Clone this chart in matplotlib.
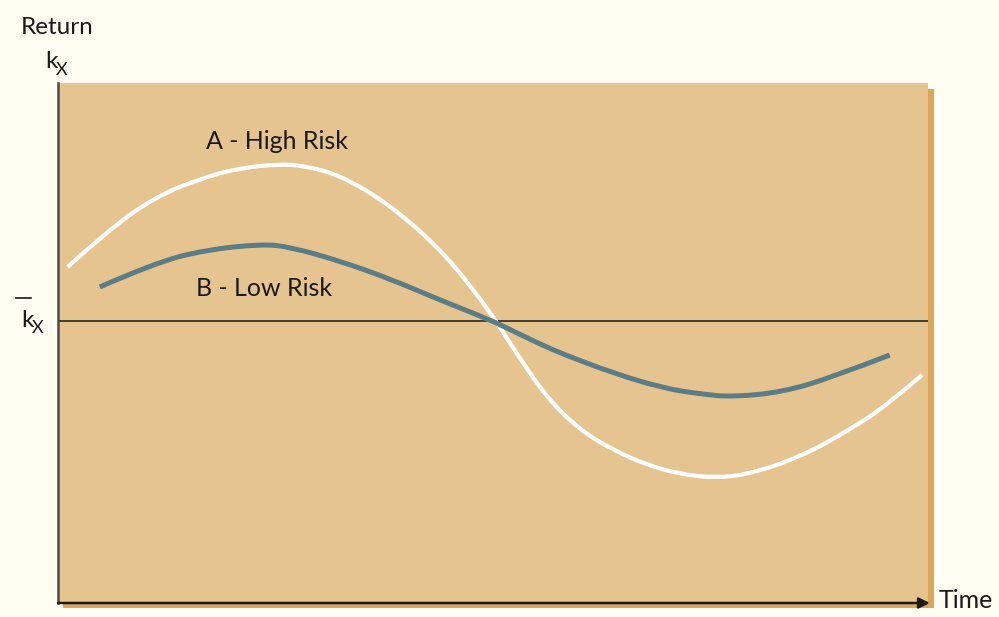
import matplotlib
matplotlib.use("Agg")
import matplotlib.pyplot as plt
from matplotlib.patches import Rectangle, PathPatch
from matplotlib.path import Path

# Return paths over time (time 0-100, return relative to the mean k_X = 0)
TIME_A = [1.1, 5.4, 11.1, 16.9, 21.0, 25.5, 28.4, 32.4, 38.2, 43.9, 47.7, 50.5,
          52.3, 56.2, 60.0, 63.8, 67.7, 71.5, 75.5, 79.5, 85.3, 91.0, 95.6, 99.3]
RETURN_A = [5.4, 8.8, 12.4, 14.4, 15.3, 15.7, 15.5, 14.6, 11.6, 7.2, 3.2, -0.2,
            -2.7, -7.7, -10.9, -12.9, -14.4, -15.3, -15.7, -15.3, -13.6, -10.9, -8.2, -5.4]

TIME_B = [4.8, 11.1, 16.9, 23.4, 26.7, 32.4, 38.2, 43.9, 49.7, 52.3, 55.4, 58.0,
          63.8, 69.5, 73.8, 77.6, 83.3, 89.1, 95.6]
RETURN_B = [3.4, 5.8, 7.1, 7.7, 7.4, 6.0, 4.2, 2.1, 0.1, -1.0, -2.3, -3.3,
            -5.2, -6.7, -7.3, -7.6, -7.1, -5.6, -3.4]

MEAN_RETURN = 0.0
Y_MIN, Y_MAX = -28.2, 23.8

BG = "#FFFCF2"
TAN = "#E6C490"
SHADOW = "#D9A65C"
LINE_A = "white"
LINE_B = "#5B7D85"
INK = "#1a1a1a"
FONT = "Lato"

W, H = 999, 617
fig = plt.figure(figsize=(W / 100, H / 100), dpi=100, facecolor=BG)


def fx(px):
    return px / W


def fy(py):
    return 1 - py / H


def smooth_path(xs, ys):
    """Quadratic Bezier path through the midpoints, using each sample as control."""
    pts = list(zip(xs, ys))
    verts = [pts[0]]
    codes = [Path.MOVETO]
    for i in range(1, len(pts) - 1):
        mid = ((pts[i][0] + pts[i + 1][0]) / 2, (pts[i][1] + pts[i + 1][1]) / 2)
        if i == len(pts) - 2:
            mid = pts[-1]
        verts += [pts[i], mid]
        codes += [Path.CURVE3, Path.CURVE3]
    return Path(verts, codes)


# drop shadow behind the panel
fig.patches.append(Rectangle((fx(63), fy(608)), fx(934) - fx(63), fy(89) - fy(608),
                             transform=fig.transFigure, facecolor=SHADOW,
                             edgecolor="none", zorder=-1))

ax = fig.add_axes([fx(58), fy(603), fx(928) - fx(58), fy(83) - fy(603)])
ax.set_zorder(1)
ax.set_facecolor(TAN)
ax.set_xlim(0, 100)
ax.set_ylim(Y_MIN, Y_MAX)
ax.set_xticks([])
ax.set_yticks([])
for side in ["top", "right", "bottom"]:
    ax.spines[side].set_visible(False)
ax.spines["left"].set_color("#4a4a4a")
ax.spines["left"].set_linewidth(1.8)

ax.axhline(MEAN_RETURN, color=INK, lw=1.1, zorder=2)
ax.add_patch(PathPatch(smooth_path(TIME_A, RETURN_A), facecolor="none",
                       edgecolor=LINE_A, lw=3.0, capstyle="butt", zorder=3))
ax.add_patch(PathPatch(smooth_path(TIME_B, RETURN_B), facecolor="none",
                       edgecolor=LINE_B, lw=3.6, capstyle="butt", zorder=4))

# time axis with arrow
ax.annotate("", xy=(1.002, 0), xytext=(0, 0), xycoords="axes fraction",
            arrowprops=dict(arrowstyle="-|>", color=INK, lw=1.8,
                            mutation_scale=16, shrinkA=0, shrinkB=0),
            annotation_clip=False, zorder=5)

ax.text(25.2, 17.9, "A - High Risk", fontsize=18, family=FONT, color=INK,
        ha="center", va="center")
ax.text(23.7, 3.2, "B - Low Risk", fontsize=18, family=FONT, color=INK,
        ha="center", va="center")

# axis labels
fig.text(fx(57), fy(27), "Return", fontsize=17.5, family=FONT, color=INK,
         ha="center", va="center")
fig.text(fx(51), fy(68), "k", fontsize=17.5, family=FONT, color=INK,
         ha="center", va="baseline")
fig.text(fx(62), fy(75), "X", fontsize=13, family=FONT, color=INK,
         ha="center", va="baseline")

fig.text(fx(27.5), fy(327), "k", fontsize=17.5, family=FONT, color=INK,
         ha="center", va="baseline")
fig.text(fx(38), fy(333), "X", fontsize=13, family=FONT, color=INK,
         ha="center", va="baseline")
fig.add_artist(plt.Line2D([fx(16), fx(31)], [fy(298), fy(298)],
                          transform=fig.transFigure, color=INK, lw=1.2))

fig.text(fx(966), fy(601), "Time", fontsize=18, family=FONT, color=INK,
         ha="center", va="center")

fig.savefig("out.png", dpi=100, facecolor=BG)
